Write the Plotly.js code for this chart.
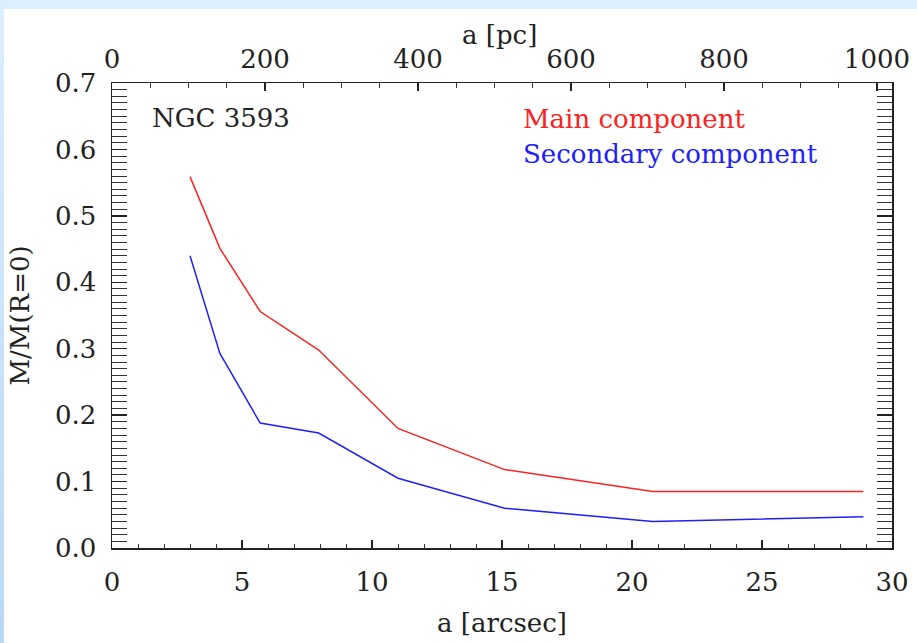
<!DOCTYPE html>
<html>
<head>
<meta charset="utf-8">
<script src="https://cdn.plot.ly/plotly-3.0.1.min.js"></script>
<style>
  html, body { margin: 0; padding: 0; background: #ffffff; }
  #wrap { position: relative; width: 917px; height: 643px; overflow: hidden; background: #ffffff; }
  #topband { position: absolute; left: 0; top: 0; width: 917px; height: 9px; background: #ddeeff; }
  #leftband { position: absolute; left: 0; top: 0; width: 4px; height: 643px; background: linear-gradient(#ddeeff, #b8d8f8); }
  #chart { position: absolute; left: 0; top: 0; width: 917px; height: 643px; }
</style>
</head>
<body>
<div id="wrap">
  <div id="topband"></div>
  <div id="leftband"></div>
  <div id="chart"></div>
</div>
<script>
// Semi-major axis in arcsec
const aArcsec = [3.0, 4.15, 5.7, 7.95, 11.0, 15.1, 20.8, 28.9];
// M / M(R=0) for each component
const mainComponent = [0.559, 0.451, 0.356, 0.298, 0.180, 0.118, 0.085, 0.085];
const secondaryComponent = [0.440, 0.293, 0.188, 0.173, 0.105, 0.060, 0.040, 0.047];
// Conversion arcsec -> pc used for the top axis
const pcPerArcsec = 33.99;
const xRangeArcsec = [0, 30];
const yRange = [0, 0.7];

const FONT = "DejaVu Serif, Liberation Serif, serif";
const TXT = "#222222";
const FS = 26;

const traces = [
  { x: aArcsec, y: mainComponent, type: "scatter", mode: "lines",
    line: { color: "#ff2020", width: 1.5 }, name: "Main component", showlegend: false, hoverinfo: "skip" },
  { x: aArcsec, y: secondaryComponent, type: "scatter", mode: "lines",
    line: { color: "#2020ff", width: 1.5 }, name: "Secondary component", showlegend: false, hoverinfo: "skip" },
  // carrier for the top (pc) axis, no visible marks
  { x: [], y: [], xaxis: "x2", yaxis: "y", type: "scatter", mode: "lines", showlegend: false, hoverinfo: "skip" }
];

const layout = {
  width: 917, height: 643,
  margin: { l: 112, r: 25, t: 83, b: 95 },
  paper_bgcolor: "rgba(0,0,0,0)",
  plot_bgcolor: "#ffffff",
  showlegend: false,
  font: { family: FONT, size: FS, color: TXT },
  title: { text: "a [pc]", xref: "paper", x: 0.497, xanchor: "center",
           yref: "container", y: 0.946, yanchor: "middle",
           font: { family: FONT, size: FS, color: TXT } },
  xaxis: {
    range: xRangeArcsec, dtick: 5, tick0: 0,
    ticks: "inside", ticklen: 8, tickwidth: 1.3, tickcolor: "#222",
    minor: { dtick: 1, ticks: "inside", ticklen: 4, tickwidth: 1, tickcolor: "#333" },
    showline: true, linecolor: "#222", linewidth: 1.5, mirror: false,
    showgrid: false, zeroline: false,
    tickfont: { family: FONT, size: FS, color: TXT },
    ticklabelstandoff: 10,
    title: { text: "a [arcsec]", font: { family: FONT, size: FS, color: TXT }, standoff: 18 }
  },
  xaxis2: {
    overlaying: "x", side: "top", anchor: "y",
    range: [xRangeArcsec[0] * pcPerArcsec, xRangeArcsec[1] * pcPerArcsec], dtick: 200, tick0: 0,
    ticks: "inside", ticklen: 8, tickwidth: 1.3, tickcolor: "#222",
    minor: { dtick: 50, ticks: "inside", ticklen: 5, tickwidth: 1, tickcolor: "#333" },
    showline: true, linecolor: "#222", linewidth: 1.5,
    showgrid: false, zeroline: false,
    tickfont: { family: FONT, size: FS, color: TXT },
    ticklabelstandoff: 3
  },
  yaxis: {
    range: yRange, dtick: 0.1, tick0: 0, tickformat: ".1f",
    ticks: "inside", ticklen: 15, tickwidth: 1.3, tickcolor: "#222",
    minor: { dtick: 0.01, ticks: "inside", ticklen: 7, tickwidth: 1, tickcolor: "#333" },
    showline: true, linecolor: "#222", linewidth: 1.5, mirror: "allticks",
    showgrid: false, zeroline: false,
    tickfont: { family: FONT, size: FS, color: TXT },
    ticklabelstandoff: 9,
    title: { text: "M/M(R=0)", font: { family: FONT, size: FS, color: TXT }, standoff: 18 }
  },
  annotations: [
    { text: "NGC 3593", xref: "paper", yref: "paper", x: 0.0487, y: 0.924,
      xanchor: "left", yanchor: "middle", showarrow: false,
      font: { family: FONT, size: FS, color: TXT } },
    { text: "Main component", xref: "paper", yref: "paper", x: 0.524, y: 0.922,
      xanchor: "left", yanchor: "middle", showarrow: false,
      font: { family: FONT, size: FS, color: "#ff2020" } },
    { text: "Secondary component", xref: "paper", yref: "paper", x: 0.524, y: 0.848,
      xanchor: "left", yanchor: "middle", showarrow: false,
      font: { family: FONT, size: FS, color: "#2020ff" } }
  ]
};

Plotly.newPlot("chart", traces, layout, { staticPlot: true, displayModeBar: false });
</script>
</body>
</html>
